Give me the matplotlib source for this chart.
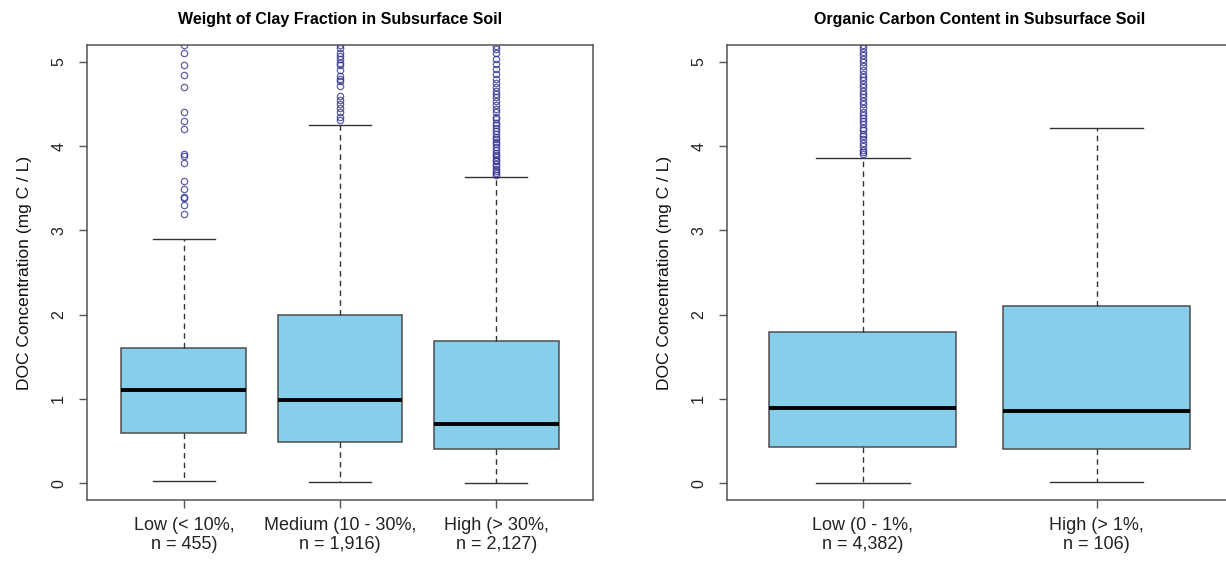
import matplotlib.pyplot as plt

plt.rcParams['font.family'] = ['Liberation Sans', 'DejaVu Sans']

# clay fraction panel
clay_labels = ['Low (< 10%,\nn = 455)', 'Medium (10 - 30%,\nn = 1,916)', 'High (> 30%,\nn = 2,127)']
clay_low_whisker = [0.03, 0.01, 0.0]
clay_q1 = [0.60, 0.49, 0.40]
clay_median = [1.10, 0.99, 0.70]
clay_q3 = [1.60, 2.00, 1.69]
clay_high_whisker = [2.90, 4.25, 3.63]
clay_outliers = [
    [3.19, 3.30, 3.38, 3.40, 3.49, 3.59, 3.80, 3.88, 3.91, 4.20, 4.30, 4.40,
     4.70, 4.85, 4.96, 5.11, 5.20],
    [4.31, 4.35, 4.41, 4.45, 4.50, 4.55, 4.60, 4.71, 4.77, 4.80, 4.83, 4.90,
     4.96, 4.99, 5.03, 5.07, 5.11, 5.17, 5.20],
    [3.66, 3.68, 3.71, 3.73, 3.76, 3.79, 3.82, 3.84, 3.87, 3.90, 3.92, 3.95,
     3.99, 4.02, 4.05, 4.08, 4.11, 4.15, 4.18, 4.21, 4.25, 4.28, 4.32, 4.35,
     4.40, 4.44, 4.49, 4.53, 4.58, 4.62, 4.66, 4.70, 4.75, 4.80, 4.86, 4.92,
     4.97, 5.03, 5.10, 5.15, 5.19],
]

# organic carbon panel
oc_labels = ['Low (0 - 1%,\nn = 4,382)', 'High (> 1%,\nn = 106)']
oc_low_whisker = [0.0, 0.01]
oc_q1 = [0.435, 0.40]
oc_median = [0.89, 0.86]
oc_q3 = [1.80, 2.10]
oc_high_whisker = [3.86, 4.21]
oc_outliers = [
    [3.91, 3.93, 3.96, 4.00, 4.04, 4.08, 4.12, 4.15, 4.19, 4.22, 4.26, 4.30,
     4.33, 4.37, 4.41, 4.45, 4.50, 4.54, 4.58, 4.62, 4.66, 4.70, 4.74, 4.78,
     4.82, 4.86, 4.90, 4.95, 5.00, 5.04, 5.08, 5.12, 5.16, 5.20],
    [],
]

yticks = [0, 1, 2, 3, 4, 5]
ylabel = 'DOC Concentration (mg C / L)'


def draw_panel(ax, title, labels, lo, q1, med, q3, hi, fliers):
    stats = []
    for i in range(len(labels)):
        stats.append(dict(whislo=lo[i], q1=q1[i], med=med[i], q3=q3[i],
                          whishi=hi[i], fliers=fliers[i], label=labels[i]))
    n = len(labels)
    pos = list(range(1, n + 1))
    ax.bxp(stats, positions=pos, widths=0.8, capwidths=0.4, patch_artist=True,
           boxprops=dict(facecolor='#87ceeb', edgecolor='#4d4d4d', linewidth=1.1),
           medianprops=dict(color='black', linewidth=2.8, solid_capstyle='butt'),
           whiskerprops=dict(color='#333333', linewidth=1.0, linestyle=(0, (4, 3))),
           capprops=dict(color='#333333', linewidth=1.0),
           flierprops=dict(marker='o', markersize=4.6, markerfacecolor='none',
                           markeredgecolor='#2b2b8c', markeredgewidth=0.9, alpha=0.75))
    ax.set_xlim(0.5 - 0.04 * n, n + 0.5 + 0.04 * n)
    ax.set_ylim(-0.2, 5.2)
    ax.set_yticks(yticks)
    ax.set_yticklabels([str(t) for t in yticks], rotation=90, va='center')
    ax.tick_params(axis='both', length=6, width=1.0, color='#555555',
                   labelsize=11.5, labelcolor='#222222', pad=9)
    ax.tick_params(axis='x', pad=6, labelsize=13)
    for lab in ax.get_xticklabels():
        lab.set_linespacing(1.2)
    for s in ax.spines.values():
        s.set_color('#555555')
        s.set_linewidth(1.1)
    ax.set_ylabel(ylabel, fontsize=12.5, color='#111111', labelpad=14)
    ax.set_title(title, fontsize=11.5, fontweight='bold', pad=15)


fig = plt.figure(figsize=(12.26, 5.65), dpi=100)
ax1 = fig.add_axes([0.0710, 0.1150, 0.4127, 0.8053])
ax2 = fig.add_axes([0.5930, 0.1150, 0.4122, 0.8053])

draw_panel(ax1, 'Weight of Clay Fraction in Subsurface Soil', clay_labels,
           clay_low_whisker, clay_q1, clay_median, clay_q3, clay_high_whisker, clay_outliers)
draw_panel(ax2, 'Organic Carbon Content in Subsurface Soil', oc_labels,
           oc_low_whisker, oc_q1, oc_median, oc_q3, oc_high_whisker, oc_outliers)

fig.savefig('out.png', dpi=100)
